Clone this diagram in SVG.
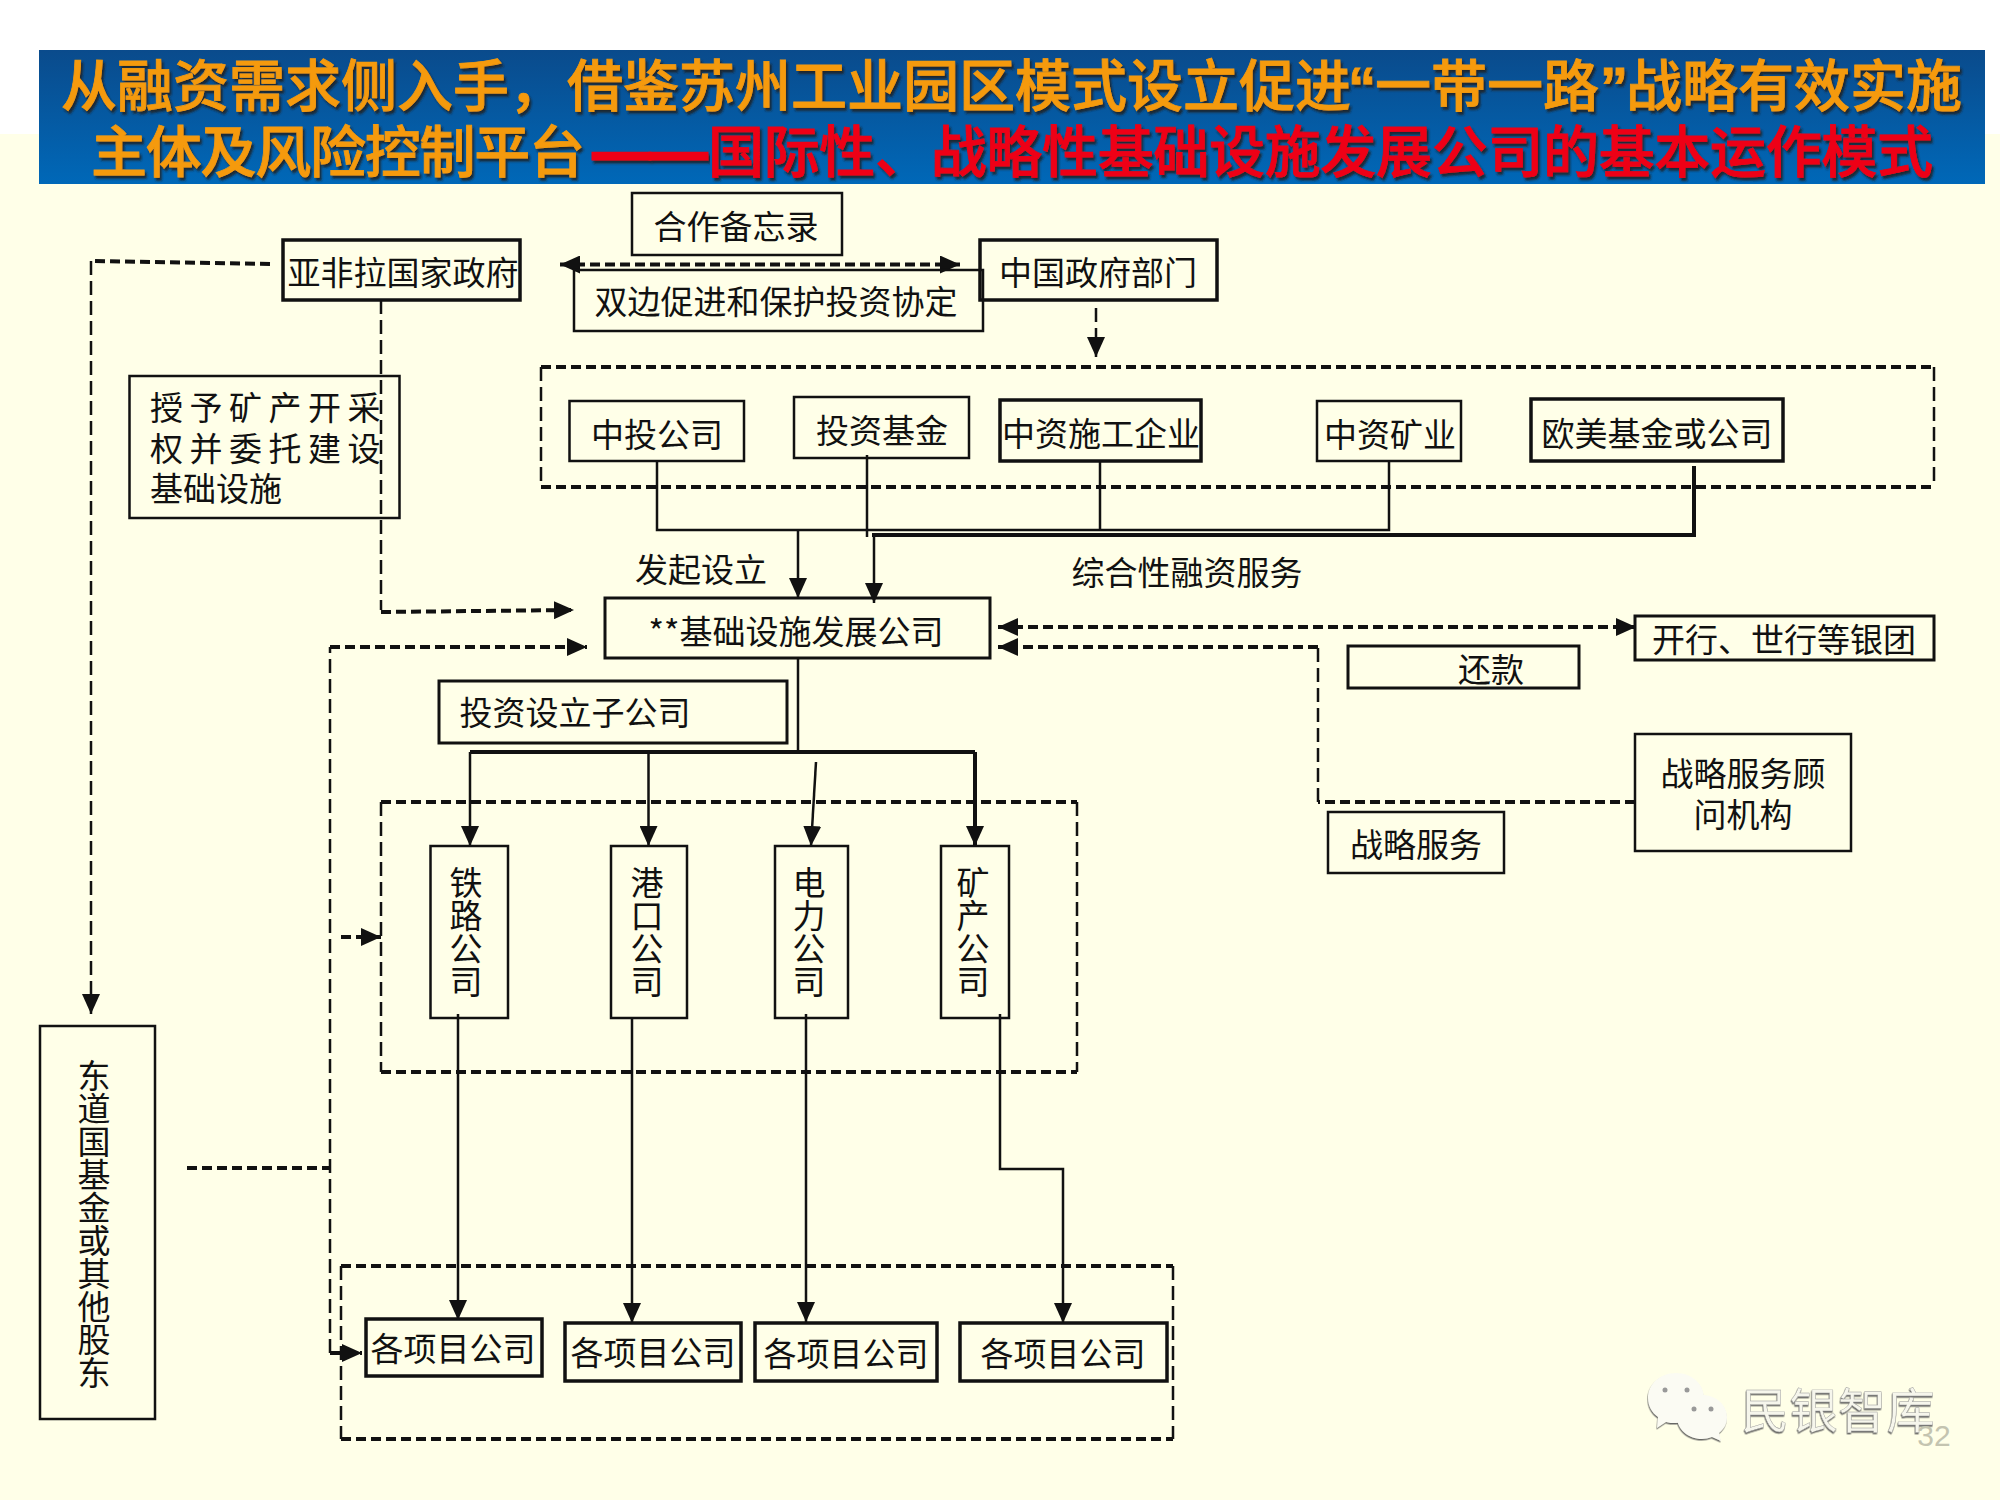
<svg xmlns="http://www.w3.org/2000/svg" width="2000" height="1500" viewBox="0 0 2000 1500">
<style>
text{font-family:"Noto Sans CJK SC","Liberation Sans",sans-serif;font-size:33px;fill:#111;text-anchor:middle}
.b{fill:none;stroke:#111;stroke-width:2.5}
.b3{fill:none;stroke:#111;stroke-width:3}
.b4{fill:none;stroke:#111;stroke-width:3.5}
.l{text-anchor:start}
.v{writing-mode:vertical-rl;text-orientation:upright;text-anchor:start}
.t{font-size:56px;font-weight:500;text-anchor:start;filter:url(#sh)}
.o{fill:#F59A0E;stroke:#F59A0E;stroke-width:0.8}.r{fill:#EE0014;stroke:#EE0014;stroke-width:0.8}
.q{font-family:"Liberation Sans",sans-serif;font-weight:700}
.dash{font-family:"Liberation Sans",sans-serif;font-size:57px;font-weight:700;stroke-width:3}
.s{fill:none;stroke:#111;stroke-width:2.5}
.st{fill:none;stroke:#111;stroke-width:4}
.dh{fill:none;stroke:#111;stroke-width:4;stroke-dasharray:10 5}
.dv{fill:none;stroke:#111;stroke-width:2.5;stroke-dasharray:14 6}
.a{marker-end:url(#ah)}
.aa{marker-end:url(#ah);marker-start:url(#ahs)}
</style>
<defs>
<linearGradient id="bn" x1="0" y1="0" x2="0" y2="1"><stop offset="0" stop-color="#0A4B8C"/><stop offset="1" stop-color="#0068B8"/></linearGradient>
<filter id="sh" x="-2%" y="-10%" width="104%" height="125%"><feDropShadow dx="2" dy="3" stdDeviation="0.8" flood-color="#1a1a1a" flood-opacity="0.85"/></filter>
<filter id="em" x="-5%" y="-5%" width="110%" height="115%"><feDropShadow dx="-0.5" dy="1.5" stdDeviation="0.7" flood-color="#555" flood-opacity="0.9"/></filter>
<marker id="ah" markerUnits="userSpaceOnUse" markerWidth="20" markerHeight="18" refX="20" refY="9" orient="auto"><path d="M0 0L20 9L0 18z" fill="#111"/></marker>
<marker id="ahs" markerUnits="userSpaceOnUse" markerWidth="20" markerHeight="18" refX="0" refY="9" orient="auto"><path d="M20 0L0 9L20 18z" fill="#111"/></marker>
</defs>
<rect width="2000" height="1500" fill="#FFFFE8"/>
<rect width="2000" height="134" fill="#FFFFFF"/>
<g id="title">
<rect x="39" y="50" width="1946" height="134" fill="url(#bn)"/>
<text class="t o" y="106"><tspan x="61">从融资需求侧入手，</tspan><tspan x="567">借鉴苏州工业园区模式设立促进</tspan><tspan x="1348" class="q">“</tspan><tspan x="1375">一带一路</tspan><tspan x="1600" class="q">”</tspan><tspan x="1626">战略有效实施</tspan></text>
<text class="t o" x="91" y="172" textLength="494" lengthAdjust="spacing">主体及风险控制平台</text>
<text class="t r dash" x="593" y="172">——</text>
<text class="t r" x="708" y="172" textLength="1225" lengthAdjust="spacing">国际性、战略性基础设施发展公司的基本运作模式</text>
</g>
<g id="groups">
<g id="group-investors"><path class="dh" d="M541 367H1934M541 487H1934"/><path class="dv" d="M541 367V487M1934 367V487"/></g>
<g id="group-subsidiaries"><path class="dh" d="M381 802H1077M381 1072H1077"/><path class="dv" d="M381 802V1072M1077 802V1072"/></g>
<g id="group-projects"><path class="dh" d="M341 1266H1173M341 1439H1173"/><path class="dv" d="M341 1266V1439M1173 1266V1439"/></g>
</g>
<g id="connectors">
<path class="dh aa" d="M560 264.500H960"/>
<path class="dh" d="M270 264L91 261"/>
<path class="dv a" d="M91 261V1014"/>
<path class="dv" d="M381 300V610"/>
<path class="dh a" d="M381 612L574 610"/>
<path class="dv a" d="M1096 308V357"/>
<path class="s a" d="M657 461V530H1389V461M798 530V598"/>
<path class="s" d="M1100 461V530"/>
<path class="s" d="M867 455V537"/>
<path class="st" d="M1694 466V535H872"/>
<path class="s a" d="M874 535V603"/>
<path class="dh aa" d="M998 627H1636"/>
<path class="dh" d="M1635 802H1318"/>
<path class="dv" d="M1318 802V647"/>
<path class="dh a" d="M1318 647H998"/>
<path class="dv" d="M330 1353V647"/>
<path class="dh a" d="M330 647H587"/>
<path class="dh a" d="M330 1353H362"/>
<path class="dh" d="M187 1168H330"/>
<path class="dh a" d="M341 937H381"/>
<path class="s" d="M798 658V752"/>
<path class="st" d="M470 752H975"/>
<path class="s a" d="M470 752V846"/>
<path class="s a" d="M648.500 752V846"/>
<path class="s a" d="M816 762L811 846"/>
<path class="st a" d="M975 752V846"/>
<path class="s a" d="M458 1014V1320"/>
<path class="s a" d="M632 1018V1323"/>
<path class="s a" d="M806 1014V1322"/>
<path class="s a" d="M1000 1014V1169H1063V1323"/>
</g>
<g id="n-memo"><rect class="b" x="632" y="193" width="210" height="62"/><text x="736" y="239">合作备忘录</text></g>
<g id="n-afro"><rect class="b4" x="283" y="240" width="237" height="60"/><text x="403" y="285">亚非拉国家政府</text></g>
<g id="n-cngov"><rect class="b4" x="980" y="240" width="237" height="60"/><text x="1098" y="285">中国政府部门</text></g>
<g id="n-bit"><rect class="b" x="574" y="270" width="409" height="61"/><text x="776" y="314">双边促进和保护投资协定</text></g>
<g id="n-grant"><rect class="b" x="129.500" y="376" width="270" height="142"/>
<text class="l" x="150" y="420" letter-spacing="6.500">授予矿产开采</text>
<text class="l" x="150" y="461" letter-spacing="6.500">权并委托建设</text>
<text class="l" x="150" y="501">基础设施</text></g>
<g id="n-cic"><rect class="b" x="569.500" y="401" width="174.500" height="60"/><text x="657" y="447">中投公司</text></g>
<g id="n-fund"><rect class="b" x="794" y="397" width="175" height="61"/><text x="882" y="443">投资基金</text></g>
<g id="n-contractor"><rect class="b4" x="1000" y="400" width="201" height="61"/><text x="1101" y="446">中资施工企业</text></g>
<g id="n-mining"><rect class="b" x="1317" y="401" width="144" height="60"/><text x="1390" y="447">中资矿业</text></g>
<g id="n-western"><rect class="b4" x="1531" y="399" width="252" height="62"/><text x="1657" y="446">欧美基金或公司</text></g>
<text x="701" y="582">发起设立</text>
<text x="1187" y="585">综合性融资服务</text>
<g id="n-infra"><rect class="b3" x="605" y="598" width="385" height="60"/><text x="796" y="644">**基础设施发展公司</text></g>
<g id="n-banks"><rect class="b3" x="1635" y="616" width="299" height="44"/><text x="1784" y="652">开行、世行等银团</text></g>
<g id="n-repay"><rect class="b3" x="1348" y="646" width="231" height="42"/><text x="1491" y="682">还款</text></g>
<g id="n-invest"><rect class="b3" x="439" y="681" width="348" height="62"/><text x="575" y="725">投资设立子公司</text></g>
<g id="n-advisor"><rect class="b" x="1635" y="734" width="216" height="117"/><text x="1743" y="786">战略服务顾</text><text x="1743" y="827">问机构</text></g>
<g id="n-strategy"><rect class="b" x="1328" y="812" width="176" height="61"/><text x="1416" y="857">战略服务</text></g>
<g id="n-rail"><rect class="b" x="430.500" y="846" width="77.500" height="172"/><text class="v" x="466" y="866">铁路公司</text></g>
<g id="n-port"><rect class="b" x="611" y="846" width="76" height="172"/><text class="v" x="647" y="866">港口公司</text></g>
<g id="n-power"><rect class="b" x="775" y="846" width="73" height="172"/><text class="v" x="809" y="866">电力公司</text></g>
<g id="n-mine"><rect class="b" x="941" y="846" width="68" height="172"/><text class="v" x="973" y="866">矿产公司</text></g>
<g id="n-host"><rect class="b" x="40" y="1026" width="115" height="393"/><text class="v" x="94" y="1059">东道国基金或其他股东</text></g>
<g id="n-p1"><rect class="b4" x="366" y="1319" width="176" height="57"/><text x="453" y="1361">各项目公司</text></g>
<g id="n-p2"><rect class="b4" x="565" y="1323" width="176" height="58"/><text x="653" y="1365">各项目公司</text></g>
<g id="n-p3"><rect class="b4" x="755" y="1323" width="182" height="58"/><text x="846" y="1366">各项目公司</text></g>
<g id="n-p4"><rect class="b4" x="960" y="1323" width="207" height="58"/><text x="1063" y="1366">各项目公司</text></g>
<g id="logo" filter="url(#em)">
<path d="M1676 1373c16 0 28 11 28 25s-12 25-28 25c-4 0-7 0-10 -1l-9 6 1-11c-6-4-10-11-10-19 0-14 12-25 28-25z" fill="#FBFBF3"/>
<path d="M1702 1395c14 0 25 10 25 22 0 7-3 12-8 16l2 8-9-4c-3 1-7 2-10 2-14 0-25-10-25-22s11-22 25-22z" fill="#FBFBF3"/>
<circle cx="1665" cy="1390" r="2.500" fill="#999"/><circle cx="1687" cy="1390" r="2.500" fill="#999"/>
<circle cx="1694" cy="1409" r="2.500" fill="#999"/><circle cx="1711" cy="1409" r="2.500" fill="#999"/>
<text x="1838" y="1428" style="font-size:48px;fill:#F6F6EC;stroke:#999;stroke-width:0.4" textLength="194" lengthAdjust="spacing">民银智库</text>
</g>
<text x="1934" y="1446" style="font-family:'Liberation Sans',sans-serif;font-size:30px;fill:#C4C4B0">32</text>
</svg>
